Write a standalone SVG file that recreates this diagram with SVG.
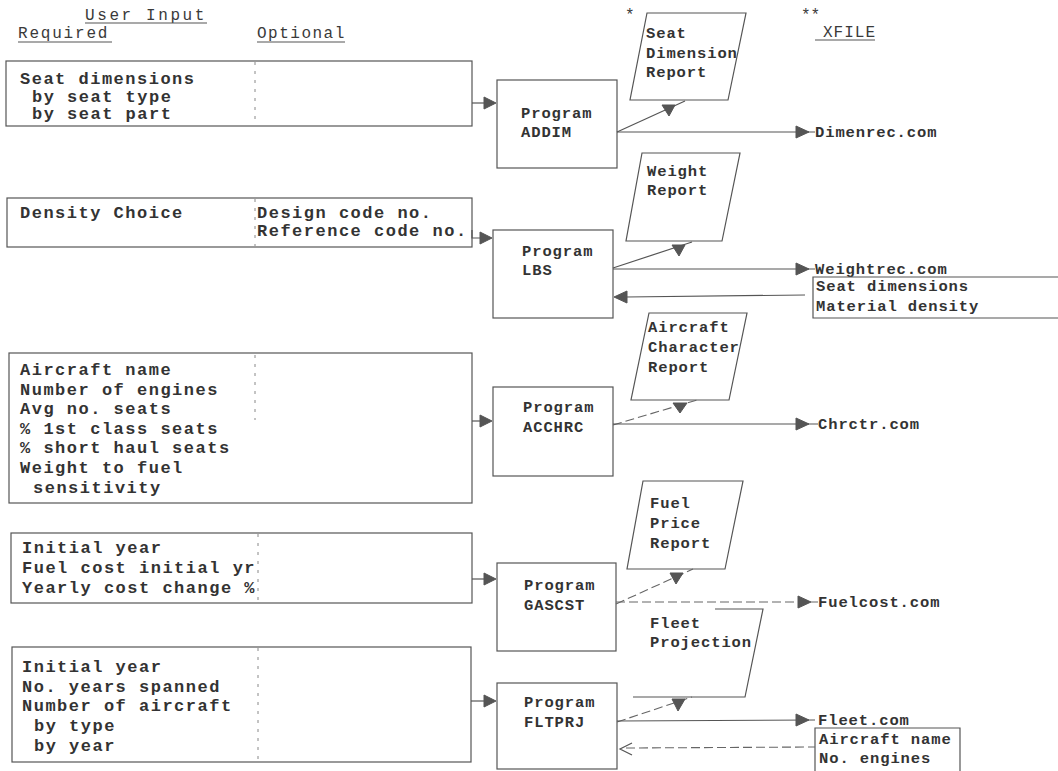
<svg xmlns="http://www.w3.org/2000/svg" width="1058" height="771" viewBox="0 0 1058 771">
<style>
.bg{fill:#fff}
.box{fill:none;stroke:#555;stroke-width:1.2}
.div{fill:none;stroke:#888;stroke-width:1;stroke-dasharray:3 6}
.ln{fill:none;stroke:#555;stroke-width:1.2}
.dl{fill:none;stroke:#666;stroke-width:1.1;stroke-dasharray:9 4}
.ah{fill:#555;stroke:#555;stroke-width:1}
.tl{font-family:"Liberation Mono","DejaVu Sans Mono",monospace;font-size:17px;font-weight:bold;letter-spacing:1.5px;fill:#333}
.tr{font-family:"Liberation Mono","DejaVu Sans Mono",monospace;font-size:15.5px;font-weight:bold;letter-spacing:0.9px;fill:#333}
.hd{font-family:"Liberation Mono","DejaVu Sans Mono",monospace;font-size:16px;letter-spacing:2.6px;fill:#3a3a3a}
</style>
<rect class="bg" x="0" y="0" width="1058" height="771"/>

<g id="headers">
<text class="hd" x="85" y="20">User Input</text>
<line class="ln" x1="85" y1="23" x2="207" y2="23"/>
<text class="hd" x="18" y="38" style="letter-spacing:1.8px">Required</text>
<line class="ln" x1="18" y1="42" x2="112" y2="42"/>
<text class="hd" x="257" y="38" style="letter-spacing:1.5px">Optional</text>
<line class="ln" x1="257" y1="42" x2="345" y2="42"/>
<text class="hd" x="625" y="20">*</text>
<text class="hd" x="801" y="20" style="letter-spacing:0">**</text>
<text class="hd" x="823" y="37" style="letter-spacing:1px">XFILE</text>
<line class="ln" x1="815" y1="40" x2="875" y2="40"/>
</g>

<g id="input1">
<rect class="box" x="6" y="61" width="466" height="65"/>
<line class="div" x1="255" y1="62" x2="255" y2="125"/>
<text class="tl" x="20" y="84">Seat dimensions</text>
<text class="tl" x="32" y="102">by seat type</text>
<text class="tl" x="32" y="119">by seat part</text>
</g>

<g id="input2">
<rect class="box" x="7" y="198" width="465" height="49"/>
<line class="div" x1="255" y1="199" x2="255" y2="246"/>
<text class="tl" x="20" y="218">Density Choice</text>
<text class="tl" x="257" y="218">Design code no.</text>
<text class="tl" x="257" y="236">Reference code no.</text>
</g>

<g id="input3">
<rect class="box" x="9" y="353" width="463" height="150"/>
<line class="div" x1="255" y1="355" x2="255" y2="420"/>
<text class="tl" x="20" y="375">Aircraft name</text>
<text class="tl" x="20" y="395">Number of engines</text>
<text class="tl" x="20" y="414">Avg no. seats</text>
<text class="tl" x="20" y="434">% 1st class seats</text>
<text class="tl" x="20" y="453">% short haul seats</text>
<text class="tl" x="20" y="473">Weight to fuel</text>
<text class="tl" x="33" y="493">sensitivity</text>
</g>

<g id="input4">
<rect class="box" x="11" y="533" width="461" height="70"/>
<line class="div" x1="258" y1="534" x2="258" y2="602"/>
<text class="tl" x="22" y="553">Initial year</text>
<text class="tl" x="22" y="573">Fuel cost initial yr</text>
<text class="tl" x="22" y="593">Yearly cost change %</text>
</g>

<g id="input5">
<rect class="box" x="12" y="647" width="459" height="115"/>
<line class="div" x1="258" y1="648" x2="258" y2="761"/>
<text class="tl" x="22" y="672">Initial year</text>
<text class="tl" x="22" y="692">No. years spanned</text>
<text class="tl" x="22" y="711">Number of aircraft</text>
<text class="tl" x="34" y="731">by type</text>
<text class="tl" x="34" y="751">by year</text>
</g>

<g id="prog-addim">
<rect class="box" x="497" y="80" width="120" height="88"/>
<text class="tr" x="521" y="118">Program</text>
<text class="tr" x="521" y="137">ADDIM</text>
</g>
<g id="prog-lbs">
<rect class="box" x="493" y="230" width="120" height="88"/>
<text class="tr" x="522" y="256">Program</text>
<text class="tr" x="522" y="275">LBS</text>
</g>
<g id="prog-acchrc">
<rect class="box" x="493" y="387" width="120" height="89"/>
<text class="tr" x="523" y="412">Program</text>
<text class="tr" x="523" y="432">ACCHRC</text>
</g>
<g id="prog-gascst">
<rect class="box" x="497" y="563" width="119" height="88"/>
<text class="tr" x="524" y="590">Program</text>
<text class="tr" x="524" y="610">GASCST</text>
</g>
<g id="prog-fltprj">
<rect class="box" x="497" y="683" width="120" height="86"/>
<text class="tr" x="524" y="707">Program</text>
<text class="tr" x="524" y="727">FLTPRJ</text>
</g>

<g id="report-seat">
<polygon class="box" points="647,13 746,13 728,100 630,100"/>
<text class="tr" x="646" y="38">Seat</text>
<text class="tr" x="646" y="58">Dimension</text>
<text class="tr" x="646" y="77">Report</text>
</g>
<g id="report-weight">
<polygon class="box" points="642,153 740,153 722,241 626,241"/>
<text class="tr" x="647" y="176">Weight</text>
<text class="tr" x="647" y="195">Report</text>
</g>
<g id="report-aircraft">
<polygon class="box" points="649,313 747,313 729,400 631,400"/>
<text class="tr" x="648" y="332">Aircraft</text>
<text class="tr" x="648" y="352">Character</text>
<text class="tr" x="648" y="372">Report</text>
</g>
<g id="report-fuel">
<polygon class="box" points="643,481 743,481 725,569 627,569"/>
<text class="tr" x="650" y="508">Fuel</text>
<text class="tr" x="650" y="528">Price</text>
<text class="tr" x="650" y="548">Report</text>
</g>
<g id="report-fleet">
<polyline class="box" points="715,609 763,609 745,697 633,697"/>
<text class="tr" x="650" y="628">Fleet</text>
<text class="tr" x="650" y="647">Projection</text>
</g>

<g id="file-dimenrec"><text class="tr" x="815" y="137">Dimenrec.com</text></g>
<g id="file-weightrec">
<text class="tr" x="815" y="274">Weightrec.com</text>
<polyline class="box" points="1058,277 813,277 813,318 1058,318"/>
<text class="tr" x="816" y="291">Seat dimensions</text>
<text class="tr" x="816" y="311">Material density</text>
</g>
<g id="file-chrctr"><text class="tr" x="818" y="429">Chrctr.com</text></g>
<g id="file-fuelcost"><text class="tr" x="818" y="607">Fuelcost.com</text></g>
<g id="file-fleet">
<text class="tr" x="818" y="725">Fleet.com</text>
<polyline class="box" points="815,771 815,728 960,728 960,771"/>
<text class="tr" x="819" y="744">Aircraft name</text>
<text class="tr" x="819" y="763">No. engines</text>
</g>

<g id="connectors">
<line class="ln" x1="472" y1="103" x2="485" y2="103"/>
<polygon class="ah" points="484,97 484,109 496,103"/>
<polyline class="ln" points="472,230 472,238 481,238"/>
<polygon class="ah" points="480,232 480,244 492,238"/>
<line class="ln" x1="472" y1="421" x2="481" y2="421"/>
<polygon class="ah" points="480,415 480,427 492,421"/>
<line class="ln" x1="472" y1="579" x2="485" y2="579"/>
<polygon class="ah" points="484,573 484,585 496,579"/>
<line class="ln" x1="471" y1="701" x2="485" y2="701"/>
<polygon class="ah" points="484,695 484,707 496,701"/>

<line class="ln" x1="617" y1="132" x2="685" y2="101"/>
<polygon class="ah" points="662,105 675,105 669,116"/>
<line class="ln" x1="617" y1="132" x2="815" y2="132"/>
<polygon class="ah" points="796,126 796,138 809,132"/>

<line class="ln" x1="613" y1="268" x2="692" y2="242"/>
<polygon class="ah" points="672,245 685,245 679,256"/>
<line class="ln" x1="613" y1="269" x2="815" y2="269"/>
<polygon class="ah" points="796,263 796,275 809,269"/>
<line class="ln" x1="626" y1="297" x2="805" y2="295"/>
<polygon class="ah" points="627,291 627,303 614,297"/>

<line class="dl" x1="613" y1="425" x2="697" y2="400"/>
<polygon class="ah" points="673,403 687,403 680,413"/>
<line class="ln" x1="613" y1="424" x2="818" y2="424"/>
<polygon class="ah" points="796,418 796,430 809,424"/>

<line class="dl" x1="616" y1="604" x2="693" y2="569"/>
<polygon class="ah" points="670,573 683,573 676,584"/>
<line class="dl" x1="616" y1="602" x2="818" y2="602"/>
<polygon class="ah" points="798,596 798,608 811,602"/>

<line class="dl" x1="617" y1="722" x2="692" y2="697"/>
<polygon class="ah" points="672,699 685,699 678,711"/>
<line class="ln" x1="617" y1="721" x2="815" y2="720"/>
<polygon class="ah" points="796,714 796,726 809,720"/>
<line class="dl" x1="626" y1="748" x2="815" y2="747"/>
<polyline class="ln" points="632,743 620,749 632,755"/>
</g>
</svg>
